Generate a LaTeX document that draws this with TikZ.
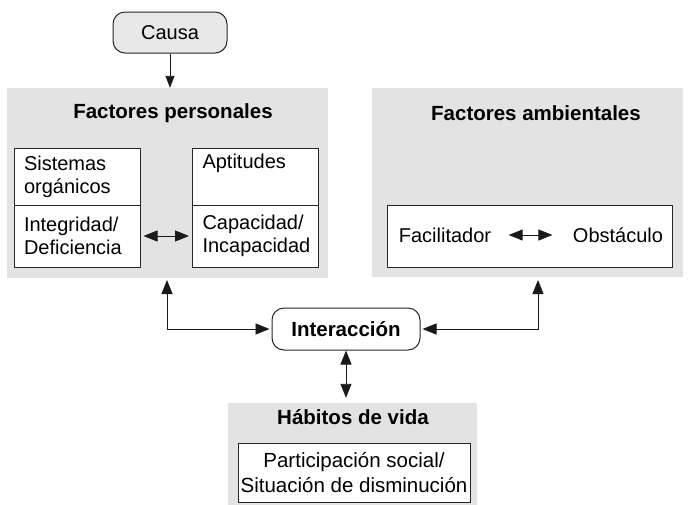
\documentclass[tikz,border=0pt]{standalone}
\usepackage{fontspec}
\setmainfont{Liberation Sans}
\usetikzlibrary{arrows.meta,calc}

\begin{document}
\begin{tikzpicture}[x=1pt, y=-1pt,
		every node/.style={font=\fontsize{20}{23}\selectfont},
		panel/.style={fill=black!11, draw=none, inner sep=0pt},
		heading/.style={font=\fontsize{20.5}{23}\selectfont\bfseries},
		cell/.style={draw=black!85, fill=white, line width=1pt, inner xsep=10pt,
			text width=106pt, align=left, minimum width=126pt},
		bubble/.style={draw=black!85, line width=1pt, rounded corners=12pt,
			minimum height=41pt},
		link/.style={line width=0.9pt, black!90, -{Triangle[length=12pt, width=9pt]}},
		both/.style={line width=0.9pt, black!90,
			{Triangle[length=14pt, width=11pt]}-{Triangle[length=14pt, width=11pt]}}]
				\useasboundingbox (0,0) rectangle (688,504);
				
				\node[panel, minimum width=321pt, minimum height=190pt] (perso) at (167.5,183) {};
				\node[panel, minimum width=311pt, minimum height=189pt] (ambient) at (527.5,182.5) {};
				\node[panel, minimum width=249pt, minimum height=105pt] (habit) at (352.5,455.5) {};
				
				\node[bubble, fill=black!9, minimum width=114pt] (causa) at (170,32.5) {Causa};
				
				\node[heading] (persoTit) at (173,113) {Factores personales};
				\node[heading] (ambientTit) at (536,113) {Factores ambientales};
				\node[heading] (habitTit) at (353,417) {Hábitos de vida};
				
				\node[cell, minimum height=57pt] (sisOrg) at (77,176.5) {Sistemas\\orgánicos};
				\node[cell, minimum height=62pt] (integ) at (77,236) {Integridad/\\Deficiencia};
				\node[cell, minimum height=57pt] (aptit) at (255.5,176.5) {Aptitudes\\\strut};
				\node[cell, minimum height=62pt] (capac) at (255.5,236) {Capacidad/\\Incapacidad};
				
				\node[draw=black!85, fill=white, line width=1pt, minimum width=285pt,
				minimum height=62pt] (ambBox) at (529.5,236) {};
				\node (facil) at (445,235) {Facilitador};
				\node (obst) at (618,235) {Obstáculo};
				
				\node[draw=black!85, fill=white, line width=1pt, minimum width=232pt,
				minimum height=59pt, align=center, inner sep=0pt,
				font=\fontsize{20.5}{25}\selectfont] (partic) at (354,472.5)
				{Participación social/\\Situación de disminución};
				
				\node[bubble, fill=white, minimum width=148pt, minimum height=42pt,
				heading] (inter) at (346,329) {Interacción};
				
				\coordinate (persoSal) at (167,280);
				\coordinate (ambSal) at (538,280);
				
				\draw[link] (causa) -- (causa |- perso.north);
				\draw[both, shorten <=3pt, shorten >=3pt] (integ) -- (capac);
				\draw[both, shorten <=14pt, shorten >=17pt] (facil) -- (obst);
				\draw[both, shorten <=2pt] (inter.west) -| (persoSal);
				\draw[both, shorten <=2pt] (inter.east) -| (ambSal);
				\draw[both, shorten >=5pt] (inter.south) -- (inter.south |- habit.north);
			\end{tikzpicture}
\end{document}
